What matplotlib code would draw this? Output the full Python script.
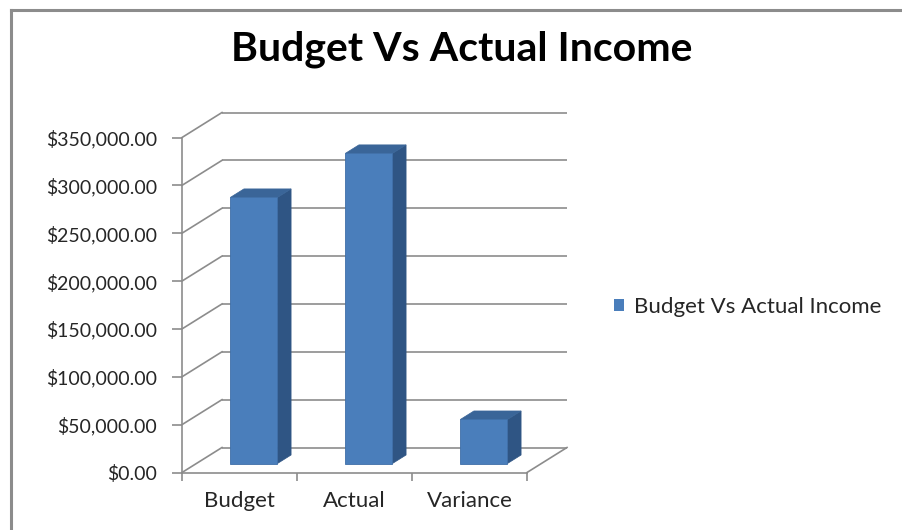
import matplotlib
matplotlib.use("Agg")
import matplotlib.pyplot as plt
from matplotlib.patches import Polygon, Patch
from matplotlib.lines import Line2D
from matplotlib.ticker import FuncFormatter

categories = ["Budget", "Actual", "Variance"]
values = [278000, 324000, 46000]
series_name = "Budget Vs Actual Income"
title = "Budget Vs Actual Income"
y_ticks = [0, 50000, 100000, 150000, 200000, 250000, 300000, 350000]

plt.rcParams['font.family'] = ['Lato', 'DejaVu Sans']

W, H = 902, 530
fig = plt.figure(figsize=(W / 100, H / 100), dpi=100)
fig.patch.set_facecolor("white")

FRONT = "#4A7EBB"
SIDE = "#2F5584"
TOP = "#3A6598"
GRID = "#8C8C8C"
TEXT = "#262626"


def px_box(l, t, r, b):
    return [l / W, 1 - b / H, (r - l) / W, (b - t) / H]


# front plane of the 3-D plot box
ax = fig.add_axes(px_box(182, 137.5, 527, 472.5))
ax.set_xlim(-0.5, len(categories) - 0.5)
ax.set_ylim(y_ticks[0], y_ticks[-1])
ax.patch.set_visible(False)

# depth of the box expressed in data units (40 px right, 25 px up)
ax_w_px = 527 - 182
ax_h_px = 472.5 - 137.5
DX = 40 / ax_w_px * (len(categories))
DY = 25 / ax_h_px * (y_ticks[-1] - y_ticks[0])

x_lo, x_hi = ax.get_xlim()

# back wall gridlines and left side wall lines
for t in y_ticks:
    ax.plot([x_lo + DX, x_hi + DX], [t + DY, t + DY], color=GRID, lw=1.2,
            clip_on=False, zorder=1, solid_capstyle="butt")
    ax.plot([x_lo, x_lo + DX], [t, t + DY], color=GRID, lw=1.2,
            clip_on=False, zorder=1)
# right edge of the floor
ax.plot([x_hi, x_hi + DX], [0, DY], color=GRID, lw=1.2, clip_on=False, zorder=1)

# 3-D columns
f0, f1 = 0.36, 0.70
hw = 0.205
for i, v in enumerate(values):
    ox, oy = f0 * DX, f0 * DY
    ddx, ddy = (f1 - f0) * DX, (f1 - f0) * DY
    ax.bar(i + ox, v, width=2 * hw, bottom=oy, color=FRONT,
           edgecolor="#3F6FA8", linewidth=0.6, zorder=4)
    x0, x1 = i - hw + ox, i + hw + ox
    yb, yt = oy, v + oy
    ax.add_patch(Polygon([(x1, yb), (x1, yt), (x1 + ddx, yt + ddy), (x1 + ddx, yb + ddy)],
                         closed=True, facecolor=SIDE, edgecolor=SIDE, lw=0.5,
                         zorder=3, clip_on=False))
    ax.add_patch(Polygon([(x0, yt), (x1, yt), (x1 + ddx, yt + ddy), (x0 + ddx, yt + ddy)],
                         closed=True, facecolor=TOP, edgecolor=TOP, lw=0.5,
                         zorder=3, clip_on=False))

# axes styling
for s in ("top", "right"):
    ax.spines[s].set_visible(False)
for s in ("left", "bottom"):
    ax.spines[s].set_color(GRID)
    ax.spines[s].set_linewidth(1.2)

ax.set_yticks(y_ticks)
ax.yaxis.set_major_formatter(FuncFormatter(lambda v, p: f"${v:,.2f}"))
ax.tick_params(axis="y", direction="out", length=7, width=1.2, color=GRID,
               pad=11, labelsize=14, labelcolor=TEXT)

ax.set_xticks([i - 0.5 for i in range(len(categories) + 1)])
ax.set_xticklabels([])
ax.set_xticks(range(len(categories)), minor=True)
ax.set_xticklabels(categories, minor=True)
ax.tick_params(axis="x", which="major", direction="out", length=6, width=1.2, color=GRID)
ax.tick_params(axis="x", which="minor", length=0, pad=13, labelsize=16, labelcolor=TEXT)

# title
fig.text(462 / W, 1 - 49 / H, title, ha="center", va="center",
         fontsize=29.5, fontweight="bold", color="black")

# legend
fig.legend(handles=[Patch(facecolor=FRONT, edgecolor="none", label=series_name)],
           loc="center left", bbox_to_anchor=(614 / W, 1 - 307 / H), frameon=False,
           fontsize=16, handlelength=0.45, handleheight=0.45, handletextpad=0.45,
           borderpad=0, borderaxespad=0, labelcolor=TEXT)

# chart area border (left and top edges)
fig.add_artist(Line2D([11 / W, 11 / W], [0, 1 - 10 / H], transform=fig.transFigure,
                      color="#8C8C8C", lw=2.2))
fig.add_artist(Line2D([11 / W, 1], [1 - 10 / H, 1 - 10 / H], transform=fig.transFigure,
                      color="#8C8C8C", lw=2.2))

fig.savefig("out.png", dpi=100, facecolor="white")
